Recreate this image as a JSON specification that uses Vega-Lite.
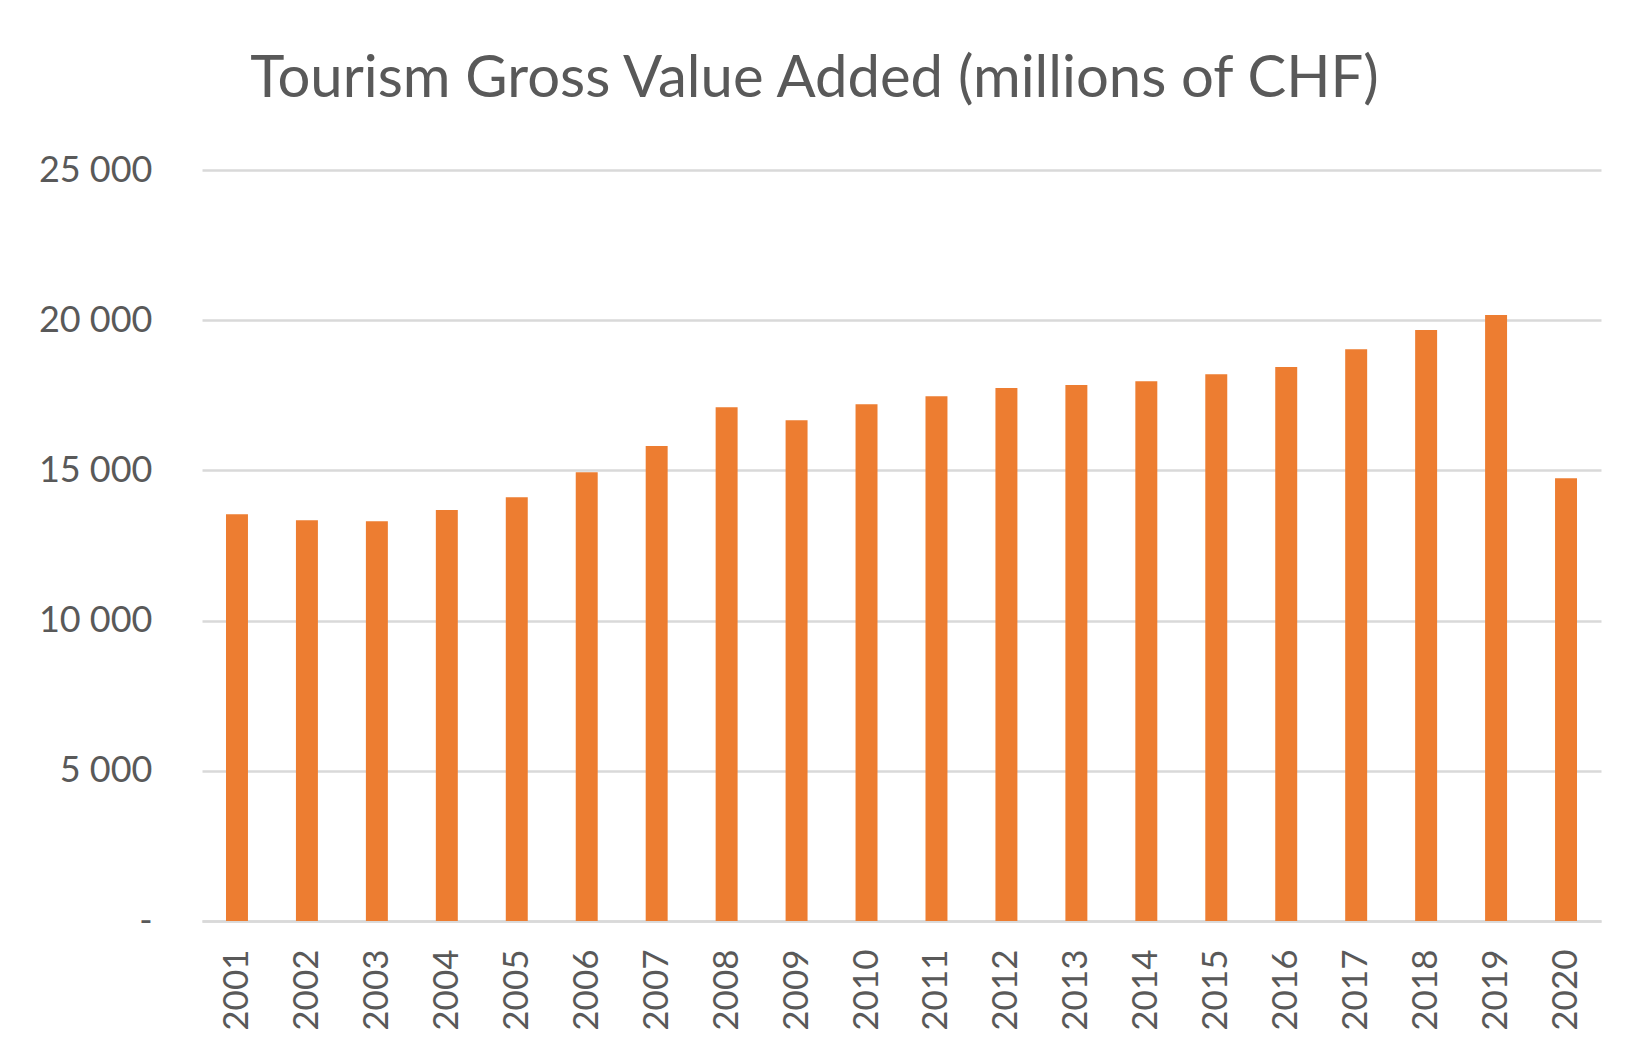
{
  "$schema": "https://vega.github.io/schema/vega-lite/v6.json",
  "autosize": "none",
  "width": 1399,
  "height": 751,
  "padding": {"left": 202, "top": 170, "right": 51, "bottom": 141},
  "background": "#ffffff",
  "title": {
    "text": "Tourism Gross Value Added (millions of CHF)",
    "font": "Lato",
    "fontSize": 58,
    "fontWeight": "normal",
    "color": "#595959",
    "anchor": "middle",
    "frame": "group",
    "baseline": "alphabetic",
    "dx": -87,
    "offset": -3
  },
  "data": {
    "values": [
      {"year": "2001", "gva": 13540},
      {"year": "2002", "gva": 13340},
      {"year": "2003", "gva": 13310},
      {"year": "2004", "gva": 13680},
      {"year": "2005", "gva": 14110},
      {"year": "2006", "gva": 14940},
      {"year": "2007", "gva": 15810},
      {"year": "2008", "gva": 17100},
      {"year": "2009", "gva": 16670},
      {"year": "2010", "gva": 17200},
      {"year": "2011", "gva": 17470},
      {"year": "2012", "gva": 17740},
      {"year": "2013", "gva": 17840},
      {"year": "2014", "gva": 17970},
      {"year": "2015", "gva": 18200},
      {"year": "2016", "gva": 18440},
      {"year": "2017", "gva": 19030},
      {"year": "2018", "gva": 19670},
      {"year": "2019", "gva": 20170},
      {"year": "2020", "gva": 14740}
    ]
  },
  "mark": {"type": "bar", "color": "#ed7d31"},
  "encoding": {
    "x": {
      "field": "year",
      "type": "ordinal",
      "title": null,
      "scale": {"paddingInner": 0.686, "paddingOuter": 0.343},
      "axis": {
        "labelAngle": -90,
        "labelFont": "Lato",
        "labelFontSize": 35,
        "labelColor": "#595959",
        "labelPadding": 28,
        "ticks": false,
        "domainColor": "#d9d9d9",
        "domainWidth": 2.5
      }
    },
    "y": {
      "field": "gva",
      "type": "quantitative",
      "title": null,
      "scale": {"domain": [0, 25000]},
      "axis": {
        "values": [0, 5000, 10000, 15000, 20000, 25000],
        "labelExpr": "datum.value == 0 ? '-\u00a0\u00a0\u00a0' : replace(format(datum.value, ','), ',', ' ')",
        "labelFont": "Lato",
        "labelFontSize": 36,
        "labelColor": "#595959",
        "labelPadding": 50,
        "ticks": false,
        "domain": false,
        "gridColor": "#d9d9d9",
        "gridWidth": 2.5
      }
    }
  },
  "config": {"view": {"stroke": null}}
}
